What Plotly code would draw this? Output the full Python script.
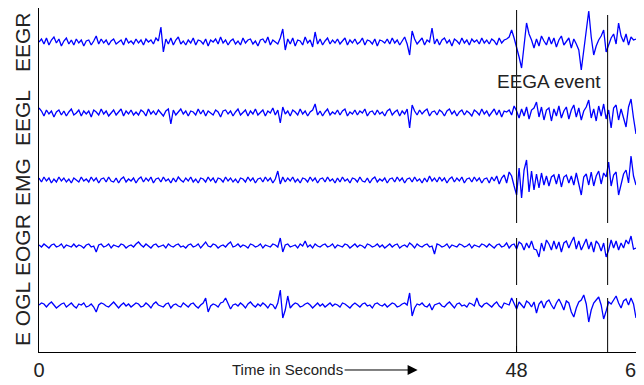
import numpy as np
import plotly.graph_objects as go

# ---------------- data (sampled every 0.25 s, arbitrary units, up = positive) ----------------
SAMPLE_STEP = 0.25
channel_names = ["EEGR", "EEGL", "EMG", "EOGR", "E OGL"]

eegr = [
    0, 3, -2, 4, -3, 2, 5, -1, 3, -4, 1, 4, -2, 2, -3, 3, -1, 2, -4, 1,
    2, -3, 1, 6, -2, 3, -1, 2, -3, 1, 3, -2, 0, 2, -3, 4, -1, 1, -2, 3,
    -1, 2, -3, 3, 0, 2, -2, 4, 1, 15, -10, 3, -2, 4, -3, 2, 5, -2, 1, -3,
    2, -1, 4, -3, 2, 1, -2, 3, -4, 2, 0, 3, -2, 5, -1, 2, -3, 1, 3, -2,
    1, -3, 4, -1, 2, 3, -2, 1, -4, 2, 3, -1, 5, -3, 2, 0, -2, 4, 13, -8,
    3, -2, 4, -4, 2, 1, -3, 5, -1, 2, -5, 10, -2, 3, -3, 1, 4, -2, 2, -1,
    3, -2, 1, 4, -3, 2, -1, 3, -2, 0, 4, -3, 2, 1, -2, 3, -4, 2, 1, -1,
    3, -2, 4, -1, 2, -3, 1, 5, -2, -13, 11, 3, -2, 1, 4, -3, 2, 0, 14, -2,
    3, -3, 2, 4, -1, 2, -4, 3, 1, -2, 4, -1, 2, -3, 3, 0, 2, -2, 4, -1,
    2, -2, 3, 1, -3, 4, -1, 2, 3, 5, 12, 4, -5, -15, -26, -6, 19, 8, 2, -6,
    3, -4, 6, 1, -3, 5, -2, 4, -5, 2, 6, -3, 1, 4, -6, 3, -2, -8, -28, -10,
    12, 31, 5, -13, -4, 2, 6, 12, -10, -3, 4, 8, -2, 19, 6, 0, 8, -3, 5, 2,
    3,
]

eegl = [
    5, 2, -3, 3, -1, 2, -4, 1, 3, -2, 2, -3, 1, 4, -2, 0, 3, -3, 2, -1,
    2, -4, 3, 1, -2, 4, -1, 2, -3, 0, 3, -2, 1, 4, -3, 2, -1, 3, -2, 1,
    -2, 3, 1, -3, 4, -1, 2, -2, 3, 0, -3, 2, 4, -11, 3, -2, 1, 4, -1, 2,
    -3, 2, 1, -2, 4, -1, 3, -3, 2, 0, -2, 3, 1, -4, 2, 3, -1, 2, -3, 1,
    4, -2, 1, 3, -3, 2, -1, 4, -2, 1, 3, -3, 2, 0, 5, -2, 3, -10, 6, -1,
    2, -3, 3, 1, -2, 4, -1, 2, -3, 1, 3, 9, -2, 2, -3, 1, 4, -2, 1, -1,
    3, -2, 2, 4, -3, 1, -1, 3, -2, 2, 0, 4, -3, 1, 2, -2, 3, -1, 1, -3,
    2, 4, -2, 1, 3, -3, 2, -1, 4, -15, 8, 2, -2, 3, -1, 2, 4, -3, 1, 2,
    -2, 3, 1, -3, 2, 4, -1, 2, -3, 1, 3, -2, 2, 0, -3, 3, 1, -2, 4, -1,
    2, -3, 1, 4, -2, 3, -4, 2, 1, 3, -2, 7, 2, -5, 4, -3, 6, -6, 3, 5,
    11, -4, 6, -7, 3, 5, -8, 4, -3, 7, -5, 2, 6, -6, 3, 8, -4, 5, -7, 2,
    6, 13, -5, 4, -8, 7, -3, 9, -6, 3, -15, 5, 8, -7, 4, -4, -14, 6, 14, -5,
    -21,
]

emg = [
    2, -2, 3, -1, 2, -3, 1, -2, 3, -1, 2, -2, 1, -3, 2, 0, -2, 3, -1, 1,
    -2, 3, -1, 2, -3, 1, 2, -2, 3, -1, -2, 2, -3, 1, 3, -2, 1, -1, 2, -3,
    1, 3, -2, 2, -1, 3, -3, 1, 2, -2, 3, -1, 1, -3, 2, -2, 3, 0, -2, 2,
    -1, 3, -2, 1, -3, 2, 1, -2, 3, -1, 2, -3, 2, 1, -2, 3, -1, 2, -2, 1,
    -3, 2, 1, -2, 3, -1, 2, -3, 1, 2, -2, 3, -1, 2, -3, 1, 9, -4, 3, -2,
    2, -1, 3, -2, 1, -3, 2, 1, -2, 3, -1, 2, -3, 1, 2, -2, 3, -1, 1, -3,
    2, -2, 3, -1, 1, -3, 2, 1, -2, 3, -1, -2, 2, -3, 1, 3, -2, 1, -1, 2,
    -3, 1, 2, -2, 3, -1, 2, -3, 1, 2, -2, 3, -1, 1, -3, 2, -2, 4, -1, 2,
    -2, 3, -1, 2, -3, 1, 3, -2, 2, -1, 3, -3, 1, 2, -2, 3, -1, 2, -3, 1,
    2, -3, 3, -1, 4, -4, 2, 5, -3, 8, 4, -6, -15, 12, -18, 10, 20, -12, 9, -10,
    6, -8, 7, -5, 4, -6, 3, 5, -4, 6, -7, 3, 5, -3, 4, -5, 7, -4, -15, 3,
    6, -5, 8, -6, 4, 9, -4, 7, 3, 18, -6, 5, 8, -15, -4, 6, 10, -3, 24, 4,
    -5,
]

eogr = [
    1, -1, 2, 0, -2, 1, 2, -1, 0, 2, -2, 1, 0, -1, 2, -1, 1, 0, -2, 1,
    2, -1, 0, -6, 1, 2, -1, 0, 2, -2, 1, 0, -1, 2, 1, -2, 0, 1, -1, 2,
    4, 1, -1, 2, 0, -2, 1, 2, -1, 0, 1, -2, 2, 0, -1, 1, 2, -1, 0, -2,
    1, 2, -1, 0, 2, -2, 1, 4, 0, -1, 2, 1, -2, 0, 1, -1, 2, 4, -1, 0,
    2, -1, 1, 0, -2, 2, 1, -1, 0, 2, -2, 1, 0, -1, 2, 1, -1, 8, -6, 1,
    2, -1, 0, 1, -2, 2, 0, 5, -1, 1, -2, 2, 0, -1, 1, 2, -1, 0, 2, -2,
    1, 0, -1, 2, 1, -2, 0, 2, -1, 1, 0, -2, 2, 1, -1, 0, 2, -1, 1, -2,
    0, 2, -1, 1, 2, -2, 0, 1, -1, 3, 1, -2, 2, 0, -1, 1, 2, -1, 0, -8,
    2, 1, -1, 0, 2, -2, 1, 0, -1, 2, 1, -1, 0, 2, -2, 1, 0, -1, 2, 1,
    -1, 2, 0, -2, 1, 2, -1, 0, 3, -2, 1, 2, -3, 4, 2, -4, 3, -2, 5, -3,
    -4, -11, 3, -5, 6, 2, -4, 5, -3, 4, -6, 3, 5, -2, 4, 9, -3, 5, -4, 2,
    7, -3, 4, -6, 5, 2, -5, 3, -11, -4, 6, -2, 5, -4, 3, -2, 6, 2, 10, -3,
    -2,
]

eogl = [
    1, 3, 2, -1, 2, 4, 1, -2, 0, 2, 3, -1, 1, 3, 0, -2, 2, 1, 3, -1,
    0, 2, -1, -6, 1, 3, 2, 0, -1, 2, 4, 1, -2, 1, 3, 0, 2, -1, 1, 3,
    2, -1, 0, 3, 1, -2, 2, 4, 1, 0, -1, 2, 3, -2, 1, 2, 0, -1, 3, 1,
    -1, 2, 3, 0, -2, 1, 3, 8, -6, 0, 2, 1, -1, 3, 4, 8, 2, -3, 1, 2,
    0, 3, 1, -2, 2, 4, 1, -1, 2, 0, 3, 1, -2, 2, 1, -3, 3, 16, -12, -4,
    10, -2, 1, 3, 2, -1, 0, 2, 3, 1, -2, 1, 3, 0, 2, -1, 1, 3, 0, 2,
    1, -1, 3, 2, 0, -2, 1, 3, 1, -1, 2, 3, 0, 1, -2, 2, 3, 1, 0, 2,
    -1, 1, 3, 2, -1, 0, 2, 3, 1, 13, -10, -2, 2, 1, 3, 0, -1, 2, -4, 1,
    2, 3, 0, -1, 2, 4, 1, -2, 2, 3, 0, 1, -1, 3, 2, 0, 8, 1, -1, 2,
    3, 1, -1, 2, 4, 0, -2, 3, 2, 1, 8, 2, -3, 4, 1, -2, 5, 3, -1, 4,
    -7, 2, 5, -2, 4, 6, 1, -3, 3, 7, 2, -4, 5, 3, -6, -11, -2, 4, 6, 11,
    2, -16, -4, 3, 6, 9, 1, -13, -5, 4, 2, 6, 10, 3, -2, 5, 7, 1, 8, 2,
    -12,
]

event_times = [48, 57.15]
event_label = "EEGA event"
x_ticks = [0, 48, 60]
x_title = "Time in Seconds"

signals = [eegr, eegl, emg, eogr, eogl]

# ---------------- layout constants ----------------
# the page body has an 8 px margin, so the figure is sized/offset to compensate
W, H = 636, 377
ML, MR, MT, MB = 31, 7.5, 0, 33
PLOT_H = H - MT - MB               # y axis measured in px from the bottom of the plot area
channel_offsets = [310, 239, 172, 106, 46]     # baseline of each channel
label_centers = [310, 234, 170, 107, 38]       # centre of each rotated name
event_segments = [(129, 342), (67, 114), (0, 54)]
event_tops = [342, 337]
FONT = "Liberation Sans, Arial, sans-serif"

fig = go.Figure()
for sig, off in zip(signals, channel_offsets):
    t = np.arange(len(sig)) * SAMPLE_STEP
    fig.add_trace(go.Scatter(
        x=t, y=np.array(sig, dtype=float) + off, mode="lines",
        line=dict(color="#0000FF", width=1.3), showlegend=False, hoverinfo="skip"))

shapes = []
for et, top in zip(event_times, event_tops):
    for k, (y0, y1) in enumerate(event_segments):
        if k == 0:
            y1 = top
        shapes.append(dict(type="line", xref="x", yref="y", x0=et, x1=et, y0=y0, y1=y1,
                           line=dict(color="black", width=1), layer="above"))

annotations = []
for name, yc in zip(channel_names, label_centers):
    annotations.append(dict(text=name, xref="paper", yref="y", x=-0.0285, y=yc,
                            textangle=-90, showarrow=False, xanchor="center", yanchor="middle",
                            font=dict(family=FONT, size=21, color="#222")))
annotations.append(dict(text=event_label, xref="x", yref="y", x=51.3, y=271, showarrow=False,
                        font=dict(family=FONT, size=19, color="#222")))
annotations.append(dict(text=x_title, xref="x", yref="paper", x=38.05, y=-0.0523,
                        ax=-130, ay=0, axref="pixel", ayref="pixel",
                        showarrow=True, arrowhead=2, arrowsize=2, arrowwidth=1, arrowcolor="black",
                        font=dict(family=FONT, size=15, color="#222")))

fig.update_layout(
    width=W, height=H, margin=dict(l=ML, r=MR, t=MT, b=MB, autoexpand=False),
    paper_bgcolor="white", plot_bgcolor="white",
    shapes=shapes, annotations=annotations,
    xaxis=dict(range=[0, 60], tickvals=x_ticks, ticktext=[str(v) for v in x_ticks],
               ticks="inside", ticklen=6, tickcolor="black", showline=True, linecolor="black",
               linewidth=1, showgrid=False, zeroline=False, automargin=False,
               ticklabeloverflow="allow",
               tickfont=dict(family=FONT, size=20, color="#222")),
    yaxis=dict(range=[0, PLOT_H], showline=True, linecolor="black", linewidth=1,
               showticklabels=False, ticks="", showgrid=False, zeroline=False, automargin=False),
)

fig.write_html("out.html")
